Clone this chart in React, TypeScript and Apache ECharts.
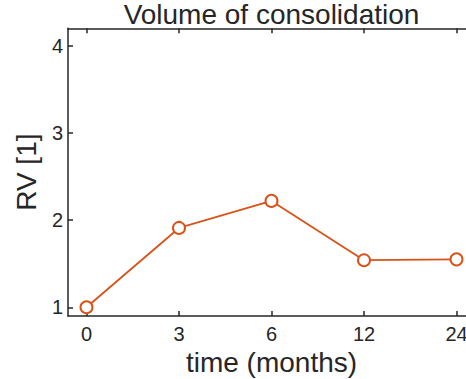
import React, { useEffect, useRef } from "react";
import * as echarts from "echarts";

const categories = ["0", "3", "6", "12", "24"];
const rvValues = [1.0, 1.91, 2.22, 1.54, 1.55];
const yTicks = [1, 2, 3, 4];
const titleText = "Volume of consolidation";
const xName = "time (months)";
const yName = "RV [1]";

const TEXT = "#262626";
const AXIS = "#262626";
const LINE = "#D95319";
const FONT = "Liberation Sans";

export default function App() {
  const ref = useRef<HTMLDivElement>(null);
  useEffect(() => {
    document.body.style.margin = "0";
    const chart = echarts.init(ref.current!, null, { renderer: "svg" });
    const xIdx = categories.map((_, i) => i);
    const axisLineStyle = { color: AXIS, width: 1.5 };
    chart.setOption({
      animation: false,
      backgroundColor: "#ffffff",
      title: {
        text: titleText,
        left: 271.5,
        top: 0,
        padding: 0,
        textAlign: "center",
        textStyle: { fontFamily: FONT, fontSize: 28, fontWeight: "normal", color: TEXT },
      },
      grid: { left: 68, top: 28.3, width: 407, height: 287.7, containLabel: false, outerBoundsMode: "none" },
      xAxis: [
        {
          type: "value",
          min: -0.2,
          max: 4.2,
          position: "bottom",
          name: xName,
          nameLocation: "middle",
          nameGap: 30,
          nameTextStyle: { fontFamily: FONT, fontSize: 28, color: TEXT },
          axisLine: { show: true, onZero: false, lineStyle: axisLineStyle },
          axisTick: { show: true, inside: true, length: 5, customValues: xIdx, lineStyle: axisLineStyle },
          axisLabel: {
            show: true,
            customValues: xIdx,
            margin: 8,
            fontFamily: FONT,
            fontSize: 20,
            color: TEXT,
            formatter: (v: number) => categories[Math.round(v)] ?? "",
          },
          splitLine: { show: false },
        },
        {
          type: "value",
          min: -0.2,
          max: 4.2,
          position: "top",
          axisLine: { show: true, onZero: false, lineStyle: axisLineStyle },
          axisTick: { show: true, inside: true, length: 5, customValues: xIdx, lineStyle: axisLineStyle },
          axisLabel: { show: false },
          splitLine: { show: false },
        },
      ],
      yAxis: [
        {
          type: "value",
          min: 0.9,
          max: 4.2,
          position: "left",
          name: yName,
          nameLocation: "middle",
          nameRotate: 90,
          nameGap: 22,
          nameTextStyle: { fontFamily: FONT, fontSize: 28, color: TEXT },
          axisLine: { show: true, onZero: false, lineStyle: axisLineStyle },
          axisTick: { show: true, inside: true, length: 5, customValues: yTicks, lineStyle: axisLineStyle },
          axisLabel: {
            show: true,
            customValues: yTicks,
            margin: 5,
            fontFamily: FONT,
            fontSize: 20,
            color: TEXT,
          },
          splitLine: { show: false },
        },
      ],
      series: [
        {
          type: "line",
          xAxisIndex: 0,
          yAxisIndex: 0,
          data: rvValues.map((v, i) => [i, v]),
          symbol: "emptyCircle",
          symbolSize: 12,
          showSymbol: true,
          lineStyle: { color: LINE, width: 1.8 },
          itemStyle: { color: LINE, borderColor: LINE, borderWidth: 1.8 },
        },
      ],
    });
    return () => chart.dispose();
  }, []);
  return <div ref={ref} style={{ width: 466, height: 379 }} />;
}
